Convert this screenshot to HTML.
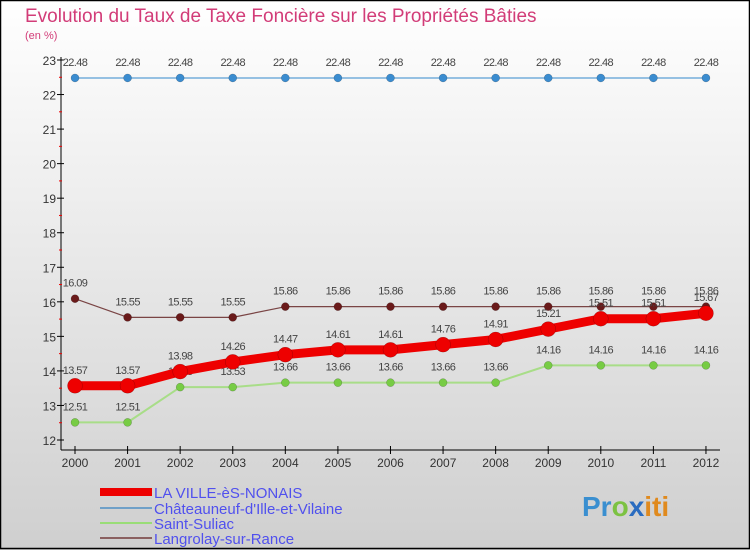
<!DOCTYPE html>
<html><head><meta charset="utf-8"><style>
body{margin:0;}
#wrap{width:750px;height:550px;position:relative;overflow:hidden;font-family:"Liberation Sans",sans-serif;}
</style></head><body>
<div id="wrap">
<svg id="svg" width="750" height="550" xmlns="http://www.w3.org/2000/svg">
<defs><linearGradient id="bg" x1="0" y1="0" x2="0" y2="1"><stop offset="0" stop-color="#ffffff"/><stop offset="1" stop-color="#cfcfcf"/></linearGradient></defs>
<rect x="0" y="0" width="750" height="550" fill="url(#bg)"/>
<rect x="0.5" y="0.5" width="749" height="548" fill="none" stroke="#000" stroke-width="1.5"/>
<text x="25" y="22" font-size="19" fill="#d23c78">Evolution du Taux de Taxe Foncière sur les Propriétés Bâties</text>
<text x="25" y="39" font-size="11" fill="#d23c78">(en %)</text>
<g id="axes"></g>
<g id="series"></g>
<g id="legend" font-size="15" fill="#5050ee">
<rect x="100" y="488" width="52" height="8" fill="#ee0000"/>
<text x="154" y="498">LA VILLE-èS-NONAIS</text>
<rect x="100" y="507" width="52" height="2" fill="#6fa0c8"/>
<text x="154" y="514">Châteauneuf-d'Ille-et-Vilaine</text>
<rect x="100" y="522" width="52" height="2" fill="#99dd77"/>
<text x="154" y="529">Saint-Suliac</text>
<rect x="100" y="537" width="52" height="2" fill="#8a6060"/>
<text x="154" y="544">Langrolay-sur-Rance</text>
</g>
<g font-size="28" font-weight="bold">
<text x="582" y="516"><tspan fill="#3a8fd0">Pr</tspan><tspan fill="#7cc242">o</tspan><tspan fill="#2a6cc0">x</tspan><tspan fill="#e08a1e">iti</tspan></text>
</g>
</svg>
</div>
<script>
const years=["2000","2001","2002","2003","2004","2005","2006","2007","2008","2009","2010","2011","2012"];
const yTicks=[12,13,14,15,16,17,18,19,20,21,22,23];
const laVille=[13.57,13.57,13.98,14.26,14.47,14.61,14.61,14.76,14.91,15.21,15.51,15.51,15.67];
const chateauneuf=[22.48,22.48,22.48,22.48,22.48,22.48,22.48,22.48,22.48,22.48,22.48,22.48,22.48];
const saintSuliac=[12.51,12.51,13.53,13.53,13.66,13.66,13.66,13.66,13.66,14.16,14.16,14.16,14.16];
const langrolay=[16.09,15.55,15.55,15.55,15.86,15.86,15.86,15.86,15.86,15.86,15.86,15.86,15.86];
const NS="http://www.w3.org/2000/svg";
function xS(i){return 75+i*52.58;}
function yS(v){return 440-(v-12)*(380/11);}
function mk(t,a,p){const e=document.createElementNS(NS,t);for(const k in a)e.setAttribute(k,a[k]);if(p)p.appendChild(e);return e;}
const ax=document.getElementById('axes');
let l=mk('line',{x1:61,y1:57,x2:61,y2:450,stroke:'#000','stroke-width':1},ax);


l=mk('line',{x1:61,y1:450,x2:720,y2:450,stroke:'#000','stroke-width':1},ax);


yTicks.forEach((v,i)=>{
  mk('line',{x1:57,y1:yS(v),x2:64,y2:yS(v),stroke:'#000'},ax);
  if(i<yTicks.length-1)mk('line',{x1:59,y1:yS(v+0.5),x2:62,y2:yS(v+0.5),stroke:'#e00'},ax);
  const t=mk('text',{x:56,y:yS(v)+5,'font-size':12,fill:'#333','text-anchor':'end'},ax);
  t.textContent=v;
  
  
});
years.forEach((y,i)=>{
  mk('line',{x1:xS(i),y1:446,x2:xS(i),y2:454,stroke:'#000'},ax);
  const t=mk('text',{x:xS(i),y:467,'font-size':12,fill:'#333','text-anchor':'middle'},ax);
  t.textContent=y;
  
  
});
const sg=document.getElementById('series');
function draw(data,color,w,r,dot,name){
  const g=mk('g',{},sg);
  
  
  const p=mk('polyline',{points:data.map((v,i)=>xS(i)+','+yS(v)).join(' '),fill:'none',stroke:color,'stroke-width':w,'stroke-linejoin':'round'},g);
  
  
  data.forEach((v,i)=>{
    const c=mk('circle',{cx:xS(i),cy:yS(v),r:r,fill:dot,stroke:'rgba(0,0,0,0.3)','stroke-width':0.5},g);
    
    
    const t=mk('text',{x:xS(i),y:yS(v)-12,'font-size':11,fill:'#444','text-anchor':'middle','letter-spacing':'-0.6'},g);
    t.textContent=v.toFixed(2).replace(/0$/,'').replace(/\.$/,'');
    
    
  });
}
draw(chateauneuf,'#5a9fd4',1.2,4,'#3a8cd0','chateauneuf');
draw(saintSuliac,'#a8dd88',2,4,'#77cc44','saint-suliac');
draw(langrolay,'#7a4545',1.2,4,'#6a1a1a','langrolay');
draw(laVille,'#ee0000',9,7.5,'#ee0000','la-ville');
</script>
</body></html>
